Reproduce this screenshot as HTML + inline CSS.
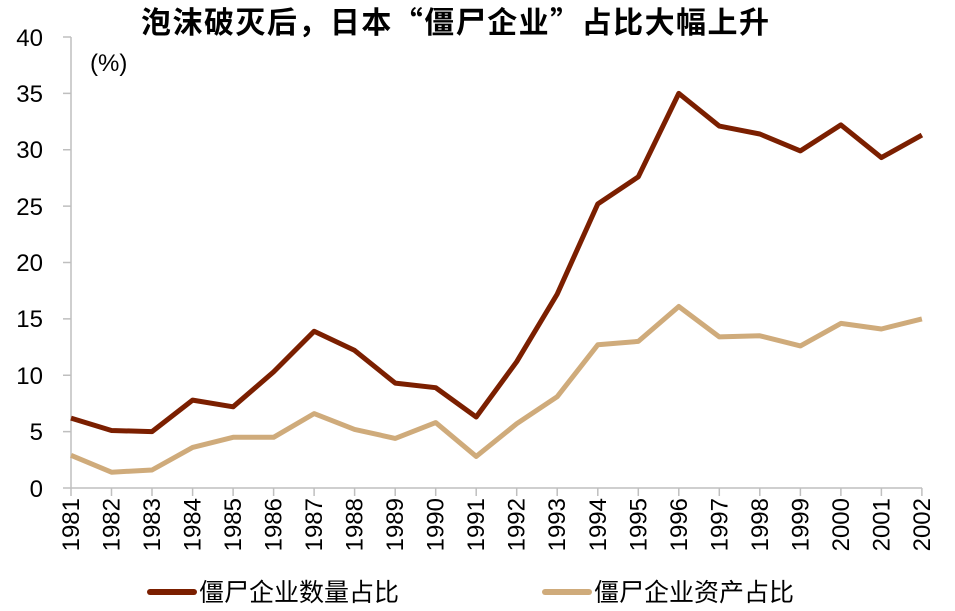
<!DOCTYPE html>
<html><head><meta charset="utf-8"><style>
html,body{margin:0;padding:0;background:#fff;width:955px;height:611px;overflow:hidden}
svg text{font-family:"Liberation Sans","Noto Sans CJK SC",sans-serif;fill:#000}
</style></head><body>
<svg width="955" height="611" viewBox="0 0 955 611" xmlns="http://www.w3.org/2000/svg">
<text x="455" y="33" text-anchor="middle" font-size="30" font-weight="bold" textLength="628" style="font-family:'Noto Sans CJK SC',sans-serif">泡沫破灭后，日本“僵尸企业”占比大幅上升</text>
<g stroke="#bfbfbf" stroke-width="1.5" fill="none">
<path d="M71 37V488H922"/>
<path d="M63 37H71M63 93.4H71M63 149.8H71M63 206.1H71M63 262.5H71M63 318.9H71M63 375.3H71M63 431.6H71M63 488H71"/>
<path d="M71 488v8M111.5 488v8M152 488v8M192.6 488v8M233.1 488v8M273.6 488v8M314.1 488v8M354.6 488v8M395.2 488v8M435.7 488v8M476.2 488v8M516.7 488v8M557.2 488v8M597.8 488v8M638.3 488v8M678.8 488v8M719.3 488v8M759.8 488v8M800.4 488v8M840.9 488v8M881.4 488v8M921.9 488v8"/>
</g>
<g font-size="24" text-anchor="end">
<text x="43" y="46">40</text><text x="43" y="102">35</text><text x="43" y="158">30</text><text x="43" y="215">25</text><text x="43" y="271">20</text><text x="43" y="327">15</text><text x="43" y="384">10</text><text x="43" y="440">5</text><text x="43" y="497">0</text>
</g>
<text x="90" y="71" font-size="24">(%)</text>
<g font-size="24" text-anchor="end">
<text transform="translate(79,498) rotate(-90)">1981</text>
<text transform="translate(119.5,498) rotate(-90)">1982</text>
<text transform="translate(160,498) rotate(-90)">1983</text>
<text transform="translate(200.6,498) rotate(-90)">1984</text>
<text transform="translate(241.1,498) rotate(-90)">1985</text>
<text transform="translate(281.6,498) rotate(-90)">1986</text>
<text transform="translate(322.1,498) rotate(-90)">1987</text>
<text transform="translate(362.6,498) rotate(-90)">1988</text>
<text transform="translate(403.2,498) rotate(-90)">1989</text>
<text transform="translate(443.7,498) rotate(-90)">1990</text>
<text transform="translate(484.2,498) rotate(-90)">1991</text>
<text transform="translate(524.7,498) rotate(-90)">1992</text>
<text transform="translate(565.2,498) rotate(-90)">1993</text>
<text transform="translate(605.8,498) rotate(-90)">1994</text>
<text transform="translate(646.3,498) rotate(-90)">1995</text>
<text transform="translate(686.8,498) rotate(-90)">1996</text>
<text transform="translate(727.3,498) rotate(-90)">1997</text>
<text transform="translate(767.8,498) rotate(-90)">1998</text>
<text transform="translate(808.4,498) rotate(-90)">1999</text>
<text transform="translate(848.9,498) rotate(-90)">2000</text>
<text transform="translate(889.4,498) rotate(-90)">2001</text>
<text transform="translate(929.9,498) rotate(-90)">2002</text>
</g>
<polyline fill="none" stroke="#cfab7b" stroke-width="5" stroke-linejoin="round" points="71,455.3 111.5,472.2 152,470 192.6,447.4 233.1,437.3 273.6,437.3 314.1,413.6 354.6,429.4 395.2,438.4 435.7,422.6 476.2,456.4 516.7,423.7 557.2,396.7 597.8,344.8 638.3,341.4 678.8,306.5 719.3,336.9 759.8,335.8 800.4,345.9 840.9,323.4 881.4,329 921.9,318.9"/>
<polyline fill="none" stroke="#7b1f00" stroke-width="5" stroke-linejoin="round" points="71,418.1 111.5,430.5 152,431.6 192.6,400.1 233.1,406.8 273.6,371.9 314.1,331.3 354.6,350.4 395.2,383.1 435.7,387.7 476.2,417 516.7,361.7 557.2,294.1 597.8,203.9 638.3,176.8 678.8,93.4 719.3,126.1 759.8,134 800.4,150.9 840.9,124.9 881.4,157.6 921.9,135.1"/>
<line x1="150" y1="592" x2="194" y2="592" stroke="#7b1f00" stroke-width="6" stroke-linecap="round"/>
<text x="199" y="601" font-size="25">僵尸企业数量占比</text>
<line x1="545" y1="592" x2="589" y2="592" stroke="#cfab7b" stroke-width="6" stroke-linecap="round"/>
<text x="594" y="601" font-size="25">僵尸企业资产占比</text>
</svg>
</body></html>
